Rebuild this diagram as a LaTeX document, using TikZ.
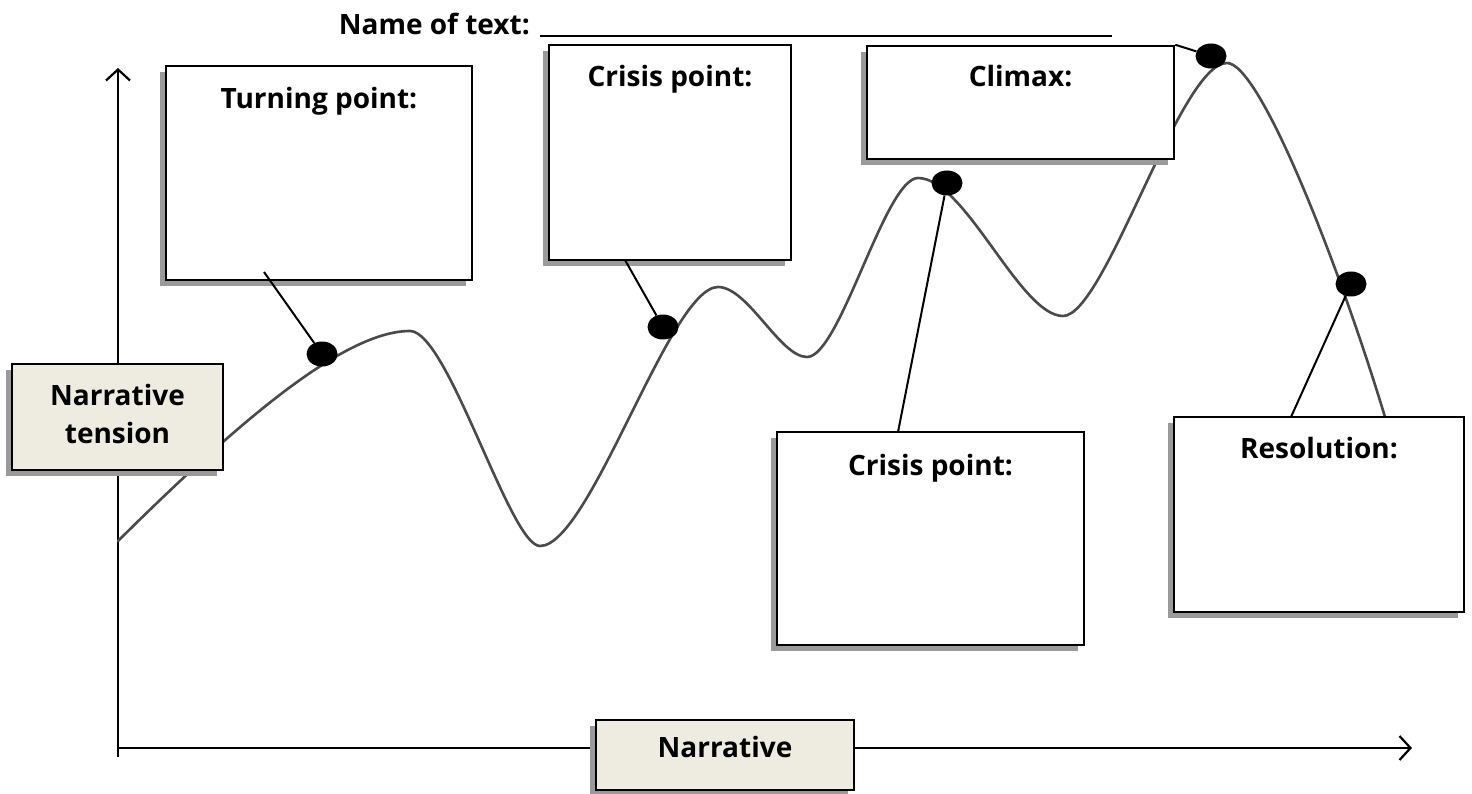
\documentclass[tikz,border=0pt]{standalone}
\usepackage{fontspec}
\setmainfont{Open Sans}
\usetikzlibrary{arrows.meta,shadows,shapes.geometric}
\definecolor{beige}{HTML}{EEECE1}
\definecolor{shadowgray}{HTML}{9A9A9A}
\definecolor{curvegray}{HTML}{4A4A4A}
\tikzset{
  box/.style={draw=black, line width=2.5pt, fill=white, inner sep=0pt,
    drop shadow={shadow xshift=-6pt, shadow yshift=-6pt, fill=shadowgray, opacity=1}},
  beigebox/.style={box, fill=beige},
  lbl/.style={font=\bfseries\fontsize{28}{38}\selectfont, inner sep=0pt},
  dot/.style={ellipse, fill=black, minimum width=31pt, minimum height=25pt, inner sep=0pt},
  leader/.style={draw=black, line width=2pt},
  axis/.style={draw=black, line width=2.2pt, -{Straight Barb[length=11pt, width=24pt, line width=2.2pt]}},
  storycurve/.style={draw=curvegray, line width=2.6pt, line cap=round}
}
\begin{document}
\begin{tikzpicture}[x=1pt, y=-1pt]
\useasboundingbox (0,0) rectangle (1472,794);
% axes
\coordinate (yb) at (118,757);
\coordinate (yt) at (118,68);
\coordinate (xl) at (118,748);
\coordinate (xr) at (1412,748);
\draw[axis] (yb) -- (yt);
\draw[axis] (xl) -- (xr);
% curve
\draw[storycurve] (118,541)
  .. controls (240,420) and (345,331) .. (410,331)
  .. controls (448,331) and (510,546) .. (540,546)
  .. controls (590,546) and (670,287) .. (718,287)
  .. controls (748,287) and (780,357) .. (807,357)
  .. controls (840,357) and (885,178) .. (918,178)
  .. controls (965,178) and (1020,316) .. (1063,316)
  .. controls (1105,316) and (1180,63) .. (1227,63)
  .. controls (1260,63) and (1339,265) .. (1385,417);
% name of text
\node[lbl, anchor=base east] (name) at (530,35) {Name of text:};
\coordinate (ul1) at (540,36);
\coordinate (ul2) at (1112,36);
\draw[line width=2pt] (ul1) -- (ul2);
% boxes
\node[box, minimum width=306pt, minimum height=214pt] (tp) at (319,173) {};
\node[lbl, anchor=base] (tpt) at ([yshift=-44pt]tp.north) {Turning point:};
\node[box, minimum width=242pt, minimum height=215pt] (c1) at (670,152.5) {};
\node[lbl, anchor=base] (c1t) at ([yshift=-43pt]c1.north) {Crisis point:};
\node[box, minimum width=307pt, minimum height=113pt] (cl) at (1020.5,102.5) {};
\node[lbl, anchor=base] (clt) at ([yshift=-42pt]cl.north) {Climax:};
\node[box, minimum width=307pt, minimum height=213pt] (c2) at (930.5,538.5) {};
\node[lbl, anchor=base] (c2t) at ([yshift=-45pt]c2.north) {Crisis point:};
\node[box, minimum width=290pt, minimum height=195pt] (rs) at (1319,514.5) {};
\node[lbl, anchor=base] (rst) at ([yshift=-43pt]rs.north) {Resolution:};
\node[beigebox, minimum width=211pt, minimum height=106pt] (nt) at (117.5,417) {};
\node[lbl, align=center] (ntt) at (117.5,414) {Narrative\\tension};
\node[beigebox, minimum width=258pt, minimum height=70pt] (nb) at (725,755) {};
\node[lbl] (nbt) at (725,747) {Narrative};
% dots
\node[dot] (d1) at (322,354) {};
\node[dot] (d2) at (663,327) {};
\node[dot] (d3) at (947,183) {};
\node[dot] (d4) at (1211,56) {};
\node[dot] (d5) at (1351,284) {};
% leaders
\coordinate (l1) at (264,272);
\coordinate (l2) at (625,260);
\coordinate (l3) at (898,432);
\coordinate (l5) at (1291,417);
\draw[leader] (l1) -- (d1);
\draw[leader] (l2) -- (d2);
\draw[leader] (l3) -- (d3);
\draw[leader] (cl.north east) -- (d4);
\draw[leader] (l5) -- (d5);
\end{tikzpicture}
\end{document}
